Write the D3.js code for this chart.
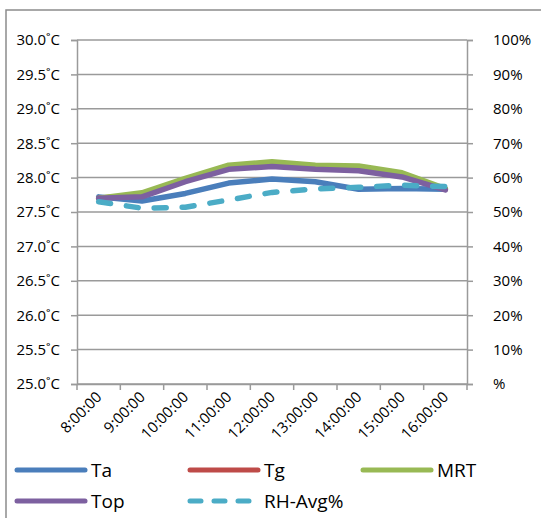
<!DOCTYPE html>
<html><head><meta charset="utf-8">
<script src="https://cdn.jsdelivr.net/npm/d3@7"></script>
<style>body{margin:0;background:#fff}svg{display:block}text{font-family:"Open Sans",sans-serif;fill:#000}</style>
</head><body><svg id="c" width="541" height="518"></svg>
<script>
const categories = ["8:00:00","9:00:00","10:00:00","11:00:00","12:00:00","13:00:00","14:00:00","15:00:00","16:00:00"];
const Ta  = [27.72,27.66,27.77,27.92,27.98,27.94,27.83,27.84,27.83];
const Tg  = [27.70,27.75,27.96,28.15,28.20,28.15,28.13,28.04,27.83];
const MRT = [27.70,27.78,27.99,28.18,28.23,28.18,28.17,28.07,27.84];
const Top = [27.70,27.72,27.94,28.12,28.16,28.12,28.10,28.01,27.82];
const RH  = [53.0,51.1,51.4,53.5,55.7,56.7,57.2,57.8,57.4];
const leftTicks = [25,25.5,26,26.5,27,27.5,28,28.5,29,29.5,30];
const rightTicks = [0,10,20,30,40,50,60,70,80,90,100];
const seriesNames = ["Ta","Tg","MRT","Top","RH-Avg%"];
const seriesColors = ["#4a7ebb","#be4b48","#98b954","#7d60a0","#4bacc6"];

const svg = d3.select("#c");
const L=77, R=467, T=40, B=384;
const x = d3.scaleBand().domain(categories).range([L,R]);
const y = d3.scaleLinear().domain([25,30]).range([B,T]);
const y2 = d3.scaleLinear().domain([0,100]).range([B,T]);
const grey="#9a9a9a";

// outer border
svg.append("path").attr("d","M6,530V10H560").attr("fill","none").attr("stroke","#8c8c8c").attr("stroke-width",1.5);

// gridlines
svg.append("g").selectAll("line").data(leftTicks).join("line")
  .attr("x1",L).attr("x2",R).attr("y1",d=>y(d)).attr("y2",d=>y(d))
  .attr("stroke",grey).attr("stroke-width",1.5);

// left axis
const la = svg.append("g").attr("transform",`translate(${L},0)`)
  .call(d3.axisLeft(y).tickValues(leftTicks).tickSize(6).tickPadding(11).tickFormat(d=>d3.format(".1f")(d)+"˚C"));
// right axis
const ra = svg.append("g").attr("transform",`translate(${R},0)`)
  .call(d3.axisRight(y2).tickValues(rightTicks).tickSize(6).tickPadding(20).tickFormat(d=>d===0?"%":d+"%"));
// bottom axis
const xa = svg.append("g").attr("transform",`translate(0,${B})`)
  .call(d3.axisBottom(x).tickSize(0).tickFormat(d=>d));
// band boundary ticks
svg.append("g").selectAll("line").data(categories.concat(["end"])).join("line")
  .attr("x1",(d,i)=>i<categories.length?x(d):R).attr("x2",(d,i)=>i<categories.length?x(d):R)
  .attr("y1",B).attr("y2",B+6).attr("stroke",grey).attr("stroke-width",1.5);

[la,ra,xa].forEach(g=>{
  g.selectAll(".domain").attr("stroke",grey).attr("stroke-width",1.5);
  g.selectAll(".tick line").attr("stroke",grey).attr("stroke-width",1.5);
  g.selectAll("text").style("font-size","15px").style("font-family","'Open Sans',sans-serif").attr("fill","#000");
});
ra.selectAll("text").attr("text-anchor","start");
xa.selectAll(".tick text").attr("text-anchor","end").attr("dy","0")
  .attr("transform","translate(4,14) rotate(-45)").attr("y",0).attr("x",0);

const line = (ys)=>d3.line().x((d,i)=>x(categories[i])+x.bandwidth()/2).y(d=>ys(d));
const data = [Ta,Tg,MRT,Top,RH];
data.forEach((s,k)=>{
  const p = svg.append("path").datum(s)
    .attr("d", line(k===4?y2:y)(s)).attr("fill","none")
    .attr("stroke",seriesColors[k]).attr("stroke-width",5.5)
    .attr("stroke-linejoin","round").attr("stroke-linecap","round");
  if(k===4) p.attr("stroke-dasharray","12,16");
});

// legend
const legPos = [[17,470],[190,470],[363,470],[17,501],[190,501]];
seriesNames.forEach((n,k)=>{
  const [lx,ly]=legPos[k];
  const ln = svg.append("line").attr("x1",lx).attr("x2",lx+68).attr("y1",ly).attr("y2",ly)
    .attr("stroke",seriesColors[k]).attr("stroke-width",5).attr("stroke-linecap","round");
  if(k===4) ln.attr("stroke-dasharray","11,13");
  svg.append("text").attr("x",lx+74).attr("y",ly+7).text(n).style("font-size","19px");
});
</script></body></html>
